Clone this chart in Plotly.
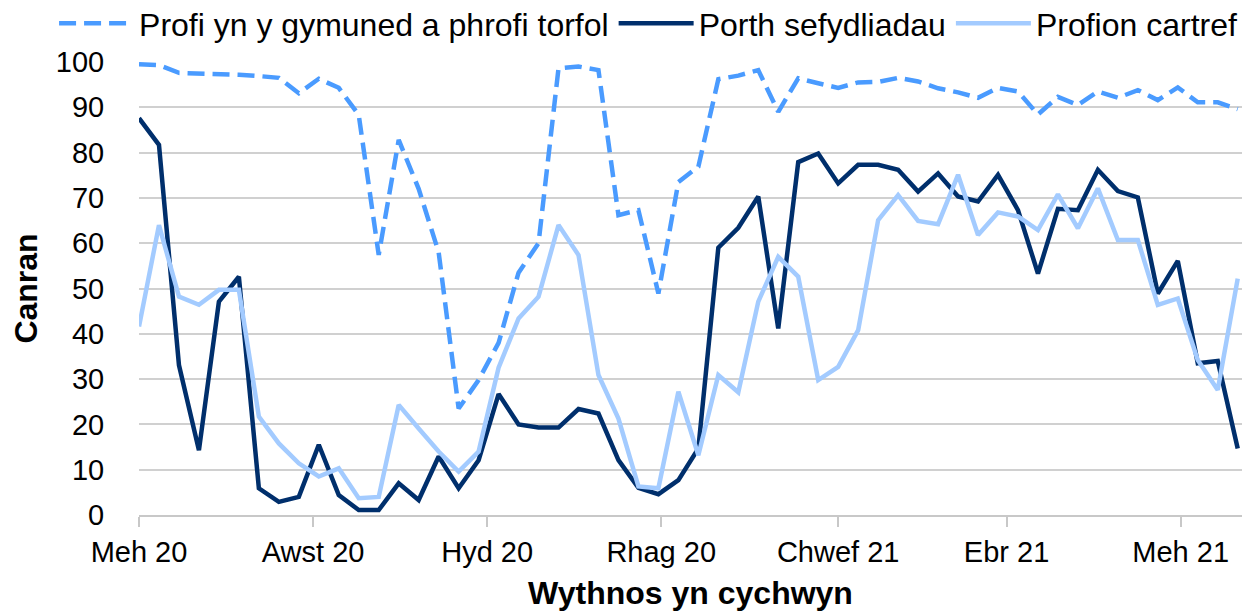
import plotly.graph_objects as go

week_start = [
    "2020-06-01", "2020-06-08", "2020-06-15", "2020-06-22", "2020-06-29",
    "2020-07-06", "2020-07-13", "2020-07-20", "2020-07-27",
    "2020-08-03", "2020-08-10", "2020-08-17", "2020-08-24", "2020-08-31",
    "2020-09-07", "2020-09-14", "2020-09-21", "2020-09-28",
    "2020-10-05", "2020-10-12", "2020-10-19", "2020-10-26",
    "2020-11-02", "2020-11-09", "2020-11-16", "2020-11-23", "2020-11-30",
    "2020-12-07", "2020-12-14", "2020-12-21", "2020-12-28",
    "2021-01-04", "2021-01-11", "2021-01-18", "2021-01-25",
    "2021-02-01", "2021-02-08", "2021-02-15", "2021-02-22",
    "2021-03-01", "2021-03-08", "2021-03-15", "2021-03-22", "2021-03-29",
    "2021-04-05", "2021-04-12", "2021-04-19", "2021-04-26",
    "2021-05-03", "2021-05-10", "2021-05-17", "2021-05-24", "2021-05-31",
    "2021-06-07", "2021-06-14", "2021-06-21",
]

profi_cymuned = [
    99.5, 99.3, 97.6, 97.5, 97.2, 97.2, 96.9, 96.5, 93.1, 96.3,
    94.3, 88.3, 57.4, 82.8, 72.0, 58.0, 23.5, 29.8, 38.0, 53.5,
    60.0, 98.6, 99.0, 98.2, 66.2, 67.3, 48.9, 73.5, 76.9, 96.2,
    97.0, 98.2, 89.0, 96.4, 95.3, 94.3, 95.5, 95.6, 96.5, 95.7,
    94.2, 93.3, 92.1, 94.3, 93.5, 88.4, 92.3, 90.5, 93.5, 92.1,
    93.8, 91.6, 94.4, 91.1, 91.1, 89.6,
]

porth_sefydliadau = [
    87.6, 81.7, 33.1, 14.3, 47.1, 52.6, 5.9, 2.9, 4.0, 15.5,
    4.4, 1.1, 1.1, 7.0, 3.3, 12.9, 5.9, 12.1, 26.7, 20.0,
    19.3, 19.3, 23.4, 22.4, 12.1, 6.0, 4.6, 7.7, 14.7, 59.0,
    63.4, 70.3, 41.2, 77.9, 79.8, 73.2, 77.3, 77.3, 76.2, 71.4,
    75.4, 70.3, 69.2, 75.1, 67.3, 53.3, 67.6, 67.3, 76.2, 71.5,
    70.1, 48.9, 56.1, 33.5, 34.0, 14.7,
]

profion_cartref = [
    41.6, 64.0, 48.2, 46.4, 49.7, 49.7, 21.7, 15.8, 11.4, 8.5,
    10.3, 3.7, 4.0, 24.3, 19.1, 14.0, 9.6, 14.0, 32.5, 43.4,
    48.2, 64.0, 57.4, 30.9, 21.3, 6.3, 5.9, 27.2, 13.2, 30.9,
    27.1, 47.1, 57.0, 52.6, 29.8, 32.7, 40.8, 65.1, 70.6, 64.9,
    64.2, 75.1, 61.8, 66.8, 65.9, 62.9, 70.8, 63.3, 72.1, 60.7,
    60.7, 46.4, 47.8, 34.2, 27.6, 52.2,
]

series_names = ["Profi yn y gymuned a phrofi torfol", "Porth sefydliadau", "Profion cartref"]
tick_dates = ["2020-06-01", "2020-08-01", "2020-10-01", "2020-12-01",
              "2021-02-01", "2021-04-01", "2021-06-01"]
tick_labels = ["Meh 20", "Awst 20", "Hyd 20", "Rhag 20", "Chwef 21", "Ebr 21", "Meh 21"]

FONT = "Liberation Sans, Arial, sans-serif"

fig = go.Figure()
fig.add_trace(go.Scatter(
    x=week_start, y=profi_cymuned, name=series_names[0], mode="lines",
    line=dict(color="#4a9bff", width=4.5, dash="17px,8px"),
))
fig.add_trace(go.Scatter(
    x=week_start, y=porth_sefydliadau, name=series_names[1], mode="lines",
    line=dict(color="#002f6c", width=4.5),
))
fig.add_trace(go.Scatter(
    x=week_start, y=profion_cartref, name=series_names[2], mode="lines",
    line=dict(color="#a3cbff", width=4.5),
))

fig.update_layout(
    width=1246, height=603,
    margin=dict(l=131, r=12, t=54, b=96, autoexpand=False),
    paper_bgcolor="white", plot_bgcolor="white",
    font=dict(family=FONT, color="black", size=29),
    showlegend=True,
    legend=dict(
        orientation="h", x=-0.077, xanchor="left", y=1.085, yanchor="middle",
        font=dict(size=32, family=FONT, color="black"),
        itemwidth=75, tracegroupgap=0, bgcolor="rgba(0,0,0,0)",
    ),
    xaxis=dict(
        type="date",
        range=["2020-06-01", "2021-06-22 12:00"],
        tickvals=tick_dates, ticktext=tick_labels,
        showgrid=False, zeroline=False,
        showline=True, linecolor="#c8c8c8", linewidth=1.5,
        ticks="outside", ticklen=10, tickcolor="#c8c8c8", tickwidth=1.5,
        tickfont=dict(size=29, family=FONT, color="black"),
        title=dict(text="<b>Wythnos yn cychwyn</b>",
                   font=dict(size=32, family=FONT, color="black"), standoff=20),
    ),
    yaxis=dict(
        range=[0, 100], dtick=10,
        showgrid=True, gridcolor="#d0d0d0", gridwidth=1.5,
        zeroline=False, showline=False,
        ticks="outside", ticklen=28, tickcolor="rgba(0,0,0,0)",
        tickfont=dict(size=29, family=FONT, color="black"),
        title=dict(text="<b>Canran</b>",
                   font=dict(size=32, family=FONT, color="black"), standoff=12),
    ),
)

fig.write_html("out.html")
